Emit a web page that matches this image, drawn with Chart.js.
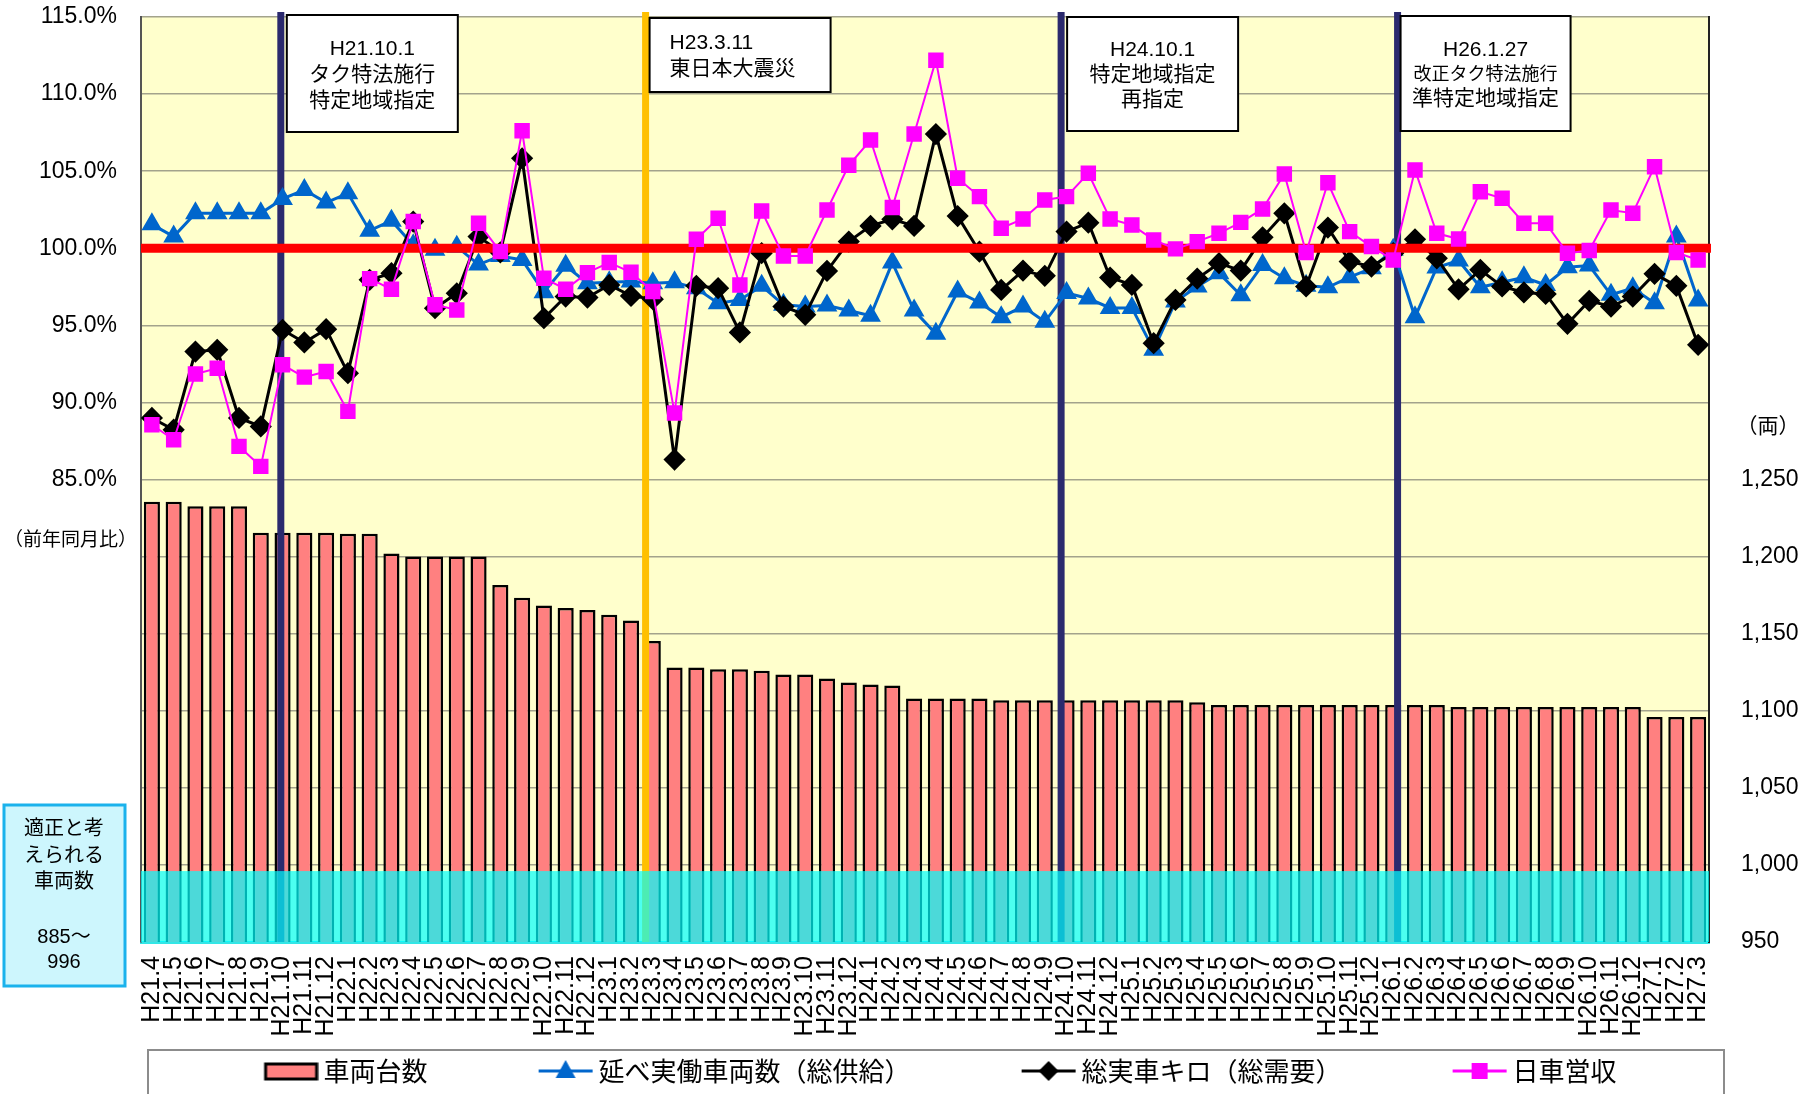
<!DOCTYPE html>
<html lang="ja">
<head>
<meta charset="utf-8">
<title>車両台数・前年同月比の推移</title>
<script src="https://cdn.jsdelivr.net/npm/chart.js@4.4.1/dist/chart.umd.min.js"></script>
<style>
  html, body { margin: 0; padding: 0; background: #fff; }
  #wrap { width: 1811px; height: 1094px; position: relative; }
</style>
</head>
<body>
<div id="wrap"><canvas id="myChart"></canvas></div>
<script>
const months = ['H21.4','H21.5','H21.6','H21.7','H21.8','H21.9','H21.10','H21.11','H21.12',
  'H22.1','H22.2','H22.3','H22.4','H22.5','H22.6','H22.7','H22.8','H22.9','H22.10','H22.11','H22.12',
  'H23.1','H23.2','H23.3','H23.4','H23.5','H23.6','H23.7','H23.8','H23.9','H23.10','H23.11','H23.12',
  'H24.1','H24.2','H24.3','H24.4','H24.5','H24.6','H24.7','H24.8','H24.9','H24.10','H24.11','H24.12',
  'H25.1','H25.2','H25.3','H25.4','H25.5','H25.6','H25.7','H25.8','H25.9','H25.10','H25.11','H25.12',
  'H26.1','H26.2','H26.3','H26.4','H26.5','H26.6','H26.7','H26.8','H26.9','H26.10','H26.11','H26.12',
  'H27.1','H27.2','H27.3'];

// 車両台数 (right axis, 両)
const vehicleCount = [1235.5,1235.5,1232.6,1232.6,1232.6,1215.5,1215.5,1215.5,1215.5,1214.8,1214.8,
  1202,1200.1,1200.1,1200.1,1200.1,1181.5,1173.3,1168.2,1166.7,1165.4,1162.3,1158.5,1145.2,
  1128,1128,1127,1127,1126,1123.5,1123.5,1121,1118.3,1117,1116.3,
  1108,1108,1108,1108,1106.8,1106.8,1106.8,1106.8,1106.8,1106.8,1106.8,1106.8,1106.8,1105.5,
  1103.8,1103.8,1103.8,1103.8,1103.8,1103.8,1103.8,1103.8,1103.8,1103.8,1103.8,
  1102.5,1102.5,1102.5,1102.5,1102.5,1102.5,1102.5,1102.5,1102.5,
  1095.9,1095.9,1095.9];

// 前年同月比 (left axis, %)
const supplyRatio = [101.55,100.76,102.27,102.27,102.27,102.27,103.2,103.78,102.96,103.56,101.14,101.79,
  100.2,99.9,100.1,98.94,99.5,99.24,97.15,98.86,97.73,97.8,97.84,97.73,97.8,97.4,96.44,96.65,97.56,
  96.33,96.22,96.29,95.96,95.62,99.07,95.96,94.45,97.19,96.48,95.53,96.22,95.23,97.1,96.74,96.13,96.13,
  93.41,96.54,97.52,98.38,96.95,98.92,98.06,97.56,97.47,98.12,98.7,99.9,95.53,98.75,99.2,97.47,97.8,
  98.12,97.62,98.77,98.88,96.98,97.41,96.44,100.76,96.61];
const demandRatio = [88.99,88.23,93.3,93.41,88.99,88.44,94.71,93.89,94.75,91.9,97.95,98.38,
  101.73,96.11,97.08,100.76,99.74,105.83,95.46,96.87,96.8,97.62,96.91,96.7,86.29,97.56,97.41,94.54,99.68,
  96.22,95.68,98.53,100.43,101.45,101.88,101.45,107.41,102.09,99.78,97.3,98.55,98.21,101.08,101.66,98.1,97.62,
  93.84,96.65,98.03,99.03,98.55,100.71,102.27,97.52,101.34,99.14,98.81,99.68,100.58,99.35,97.34,98.6,97.52,
  97.13,97.04,95.1,96.59,96.22,96.87,98.34,97.56,93.74];
const revenueRatio = [88.55,87.58,91.84,92.22,87.15,85.85,92.44,91.64,92.01,89.42,98.03,97.34,
  101.73,96.33,96.0,101.62,99.78,107.62,98.06,97.34,98.42,99.07,98.44,97.19,89.31,100.58,101.94,97.62,102.42,
  99.5,99.5,102.48,105.38,107.02,102.64,107.41,112.2,104.54,103.35,101.3,101.9,103.13,103.35,104.86,101.9,101.51,
  100.54,99.96,100.43,100.97,101.68,102.55,104.82,99.72,104.25,101.08,100.11,99.24,105.08,100.97,100.6,103.67,103.24,
  101.62,101.62,99.68,99.85,102.48,102.27,105.29,99.72,99.24];

const seriesNames = ['車両台数', '延べ実働車両数（総供給）', '総実車キロ（総需要）', '日車営収'];

// events: position on the category axis and the caption
const eventPos = [5.92, 22.67, 41.75, 57.2];
const eventText = [
  ['H21.10.1', 'タク特法施行', '特定地域指定'],
  ['H23.3.11', '東日本大震災'],
  ['H24.10.1', '特定地域指定', '再指定'],
  ['H26.1.27', '改正タク特法施行', '準特定地域指定']
];
const properRange = [885, 996];
const baseline = 100;

const FONT = "'Liberation Sans', 'Noto Sans CJK JP', sans-serif";
const JP = "'Noto Sans CJK JP', sans-serif";

// legend swatch: drawn into the right part of a wide canvas so the gap to the text stays small
function legendIcon(kind, color) {
  const c = document.createElement('canvas');
  c.width = 164; c.height = 26;
  const g = c.getContext('2d');
  const cy = 13, x0 = 109, x1 = 163, cx = (x0 + x1) / 2;
  if (kind === 'bar') {
    g.fillStyle = '#ff8080';
    g.fillRect(x0 + 2, cy - 7, 51, 15);
    g.strokeStyle = '#000';
    g.lineWidth = 3;
    g.strokeRect(x0 + 2, cy - 7, 51, 15);
    return c;
  }
  g.strokeStyle = color;
  g.lineWidth = 3;
  g.beginPath(); g.moveTo(x0, cy); g.lineTo(x1, cy); g.stroke();
  g.fillStyle = color;
  g.beginPath();
  if (kind === 'triangle') {
    g.moveTo(cx, cy - 11); g.lineTo(cx + 10, cy + 7); g.lineTo(cx - 10, cy + 7);
  } else if (kind === 'diamond') {
    g.moveTo(cx, cy - 10); g.lineTo(cx + 10, cy); g.lineTo(cx, cy + 10); g.lineTo(cx - 10, cy);
  } else {
    g.rect(cx - 8, cy - 8, 16, 16);
  }
  g.closePath();
  g.fill();
  return c;
}

const legendIcons = [
  legendIcon('bar'),
  legendIcon('triangle', '#0066cc'),
  legendIcon('diamond', '#000000'),
  legendIcon('square', '#ff00ff')
];

const eventColor = ['#2b2a6e', '#ffc000', '#2b2a6e', '#2b2a6e'];
const boxLayout = [
  { dx: 6, w: 171, top: 15, h: 117, ys: [34, 60, 86], align: 'center' },
  { dx: 4, w: 181, top: 18, h: 74, ys: [25, 51], align: 'left' },
  { dx: 6, w: 171, top: 17, h: 114, ys: [33, 58, 83], align: 'center' },
  { dx: 3, w: 170, top: 16, h: 115, ys: [34, 59, 83], align: 'center' }
];

const decor = {
  id: 'decor',
  beforeDraw(chart) {
    const { ctx, chartArea: a } = chart;
    ctx.save();
    ctx.fillStyle = '#ffffcc';
    ctx.fillRect(a.left, a.top, a.right - a.left, a.bottom - a.top);
    ctx.restore();
  },
  afterDatasetDraw(chart, args) {
    const { ctx, chartArea: a, scales } = chart;
    ctx.save();
    if (args.index === 0) {
      // event lines
      eventPos.forEach((p, i) => {
        const x = scales.x.getPixelForValue(p);
        ctx.strokeStyle = eventColor[i];
        ctx.lineWidth = 7;
        ctx.beginPath();
        ctx.moveTo(x, a.top - 5);
        ctx.lineTo(x, a.bottom);
        ctx.stroke();
      });
      // band of the proper number of vehicles
      const yTop = scales.y1.getPixelForValue(properRange[1]);
      ctx.fillStyle = 'rgba(0, 255, 255, 0.7)';
      ctx.fillRect(a.left, yTop, a.right - a.left, a.bottom - yTop);
    }
    if (args.index === 2) {
      const y = scales.y.getPixelForValue(baseline);
      ctx.strokeStyle = '#ff0000';
      ctx.lineWidth = 9;
      ctx.beginPath();
      ctx.moveTo(a.left, y);
      ctx.lineTo(a.right + 2, y);
      ctx.stroke();
    }
    ctx.restore();
  },
  afterDraw(chart) {
    const { ctx, scales, legend } = chart;
    ctx.save();

    // caption boxes
    eventText.forEach((lines, i) => {
      const b = boxLayout[i];
      const x = scales.x.getPixelForValue(eventPos[i]) + b.dx;
      ctx.fillStyle = '#fff';
      ctx.fillRect(x, b.top, b.w, b.h);
      ctx.strokeStyle = '#000';
      ctx.lineWidth = 2;
      ctx.strokeRect(x, b.top, b.w, b.h);
      ctx.fillStyle = '#000';
      ctx.textBaseline = 'middle';
      ctx.textAlign = b.align;
      lines.forEach((t, j) => {
        const size = (i === 3 && j === 1) ? 18 : 21;
        ctx.font = size + 'px ' + FONT;
        const tx = b.align === 'center' ? x + b.w / 2 : x + 20;
        ctx.fillText(t, tx, b.top + b.ys[j]);
      });
    });

    // axis captions
    ctx.fillStyle = '#000';
    ctx.textBaseline = 'middle';
    ctx.font = '19px ' + JP;
    ctx.textAlign = 'right';
    ctx.fillText('（前年同月比）', 137, 539);
    ctx.font = '21px ' + JP;
    ctx.textAlign = 'center';
    ctx.fillText('（両）', 1768, 425);

    // note box on the left
    ctx.fillStyle = '#cdf6fd';
    ctx.fillRect(4, 805, 121, 181);
    ctx.strokeStyle = '#1ab2ec';
    ctx.lineWidth = 3;
    ctx.strokeRect(4, 805, 121, 181);
    ctx.fillStyle = '#000';
    ctx.font = '20px ' + FONT;
    const note = ['適正と考', 'えられる', '車両数', '', properRange[0] + '～', String(properRange[1])];
    const noteY = [829, 856, 882, 910, 937, 962];
    note.forEach((t, i) => ctx.fillText(t, 64, noteY[i]));

    // legend frame
    ctx.strokeStyle = '#8c8c8c';
    ctx.lineWidth = 2;
    ctx.strokeRect(148, legend.top + 2, 1576, 80);
    ctx.restore();
  }
};

const ctx = document.getElementById('myChart').getContext('2d');
new Chart(ctx, {
  data: {
    labels: months,
    datasets: [
      {
        type: 'bar', label: seriesNames[0], data: vehicleCount, yAxisID: 'y1', order: 3,
        backgroundColor: '#ff8080', borderColor: '#000', borderWidth: 2.5,
        barPercentage: 0.74, categoryPercentage: 1.0
      },
      {
        type: 'line', label: seriesNames[1], data: supplyRatio, yAxisID: 'y', order: 2,
        borderColor: '#0066cc', borderWidth: 3, pointStyle: 'triangle', pointRadius: 9,
        pointBackgroundColor: '#0066cc', pointBorderColor: '#0066cc', tension: 0
      },
      {
        type: 'line', label: seriesNames[2], data: demandRatio, yAxisID: 'y', order: 1,
        borderColor: '#000', borderWidth: 3, pointStyle: 'rectRot', pointRadius: 9,
        pointBackgroundColor: '#000', pointBorderColor: '#000', tension: 0
      },
      {
        type: 'line', label: seriesNames[3], data: revenueRatio, yAxisID: 'y', order: 0,
        borderColor: '#ff00ff', borderWidth: 2, pointStyle: 'rect', pointRadius: 9.5,
        pointBackgroundColor: '#ff00ff', pointBorderColor: '#ff00ff', tension: 0
      }
    ]
  },
  options: {
    responsive: true,
    maintainAspectRatio: false,
    animation: false,
    layout: { padding: { top: 17, left: 0, right: 0, bottom: 0 } },
    plugins: {
      tooltip: { enabled: false },
      legend: {
        position: 'bottom',
        labels: {
          usePointStyle: true,
          pointStyleWidth: 148,
          padding: 10,
          color: '#000',
          font: { family: JP, size: 26 },
          // trailing blanks on the last entry pull the row a little to the left
          generateLabels: (chart) => chart.data.datasets.map((ds, i, all) => ({
            text: ds.label + (i === all.length - 1 ? '\u3000 ' : ''),
            pointStyle: legendIcons[i], datasetIndex: i, hidden: false,
            lineWidth: 0, fillStyle: 'transparent', strokeStyle: 'transparent', fontColor: '#000'
          }))
        }
      }
    },
    scales: {
      x: {
        grid: { display: false, drawTicks: false },
        border: { color: '#33e6e6', width: 3 },
        ticks: {
          autoSkip: false, minRotation: 90, maxRotation: 90, padding: 14,
          color: '#000', font: { family: FONT, size: 25 }
        },
        afterFit: (s) => { s.height = 106; }
      },
      y: {
        position: 'left', min: 55, max: 115,
        grid: { color: '#a3a38c', lineWidth: 1.5, drawTicks: true, tickLength: 22, tickColor: 'rgba(0,0,0,0)' },
        border: { color: '#555', width: 2 },
        ticks: {
          stepSize: 5, padding: 2, color: '#000', font: { family: FONT, size: 23 },
          callback: (v) => v >= 85 ? v.toFixed(1) + '%' : ''
        },
        afterFit: (s) => { s.width = 141; }
      },
      y1: {
        position: 'right', min: 950, max: 1550,
        grid: { drawOnChartArea: false, drawTicks: true, tickLength: 30, tickColor: 'rgba(0,0,0,0)' },
        border: { color: '#222', width: 2 },
        ticks: {
          stepSize: 50, padding: 2, color: '#000', font: { family: FONT, size: 23 },
          callback: (v) => v <= 1250 ? v.toLocaleString('en-US') : ''
        },
        afterFit: (s) => { s.width = 102; }
      }
    }
  },
  plugins: [decor]
});
</script>
</body>
</html>
